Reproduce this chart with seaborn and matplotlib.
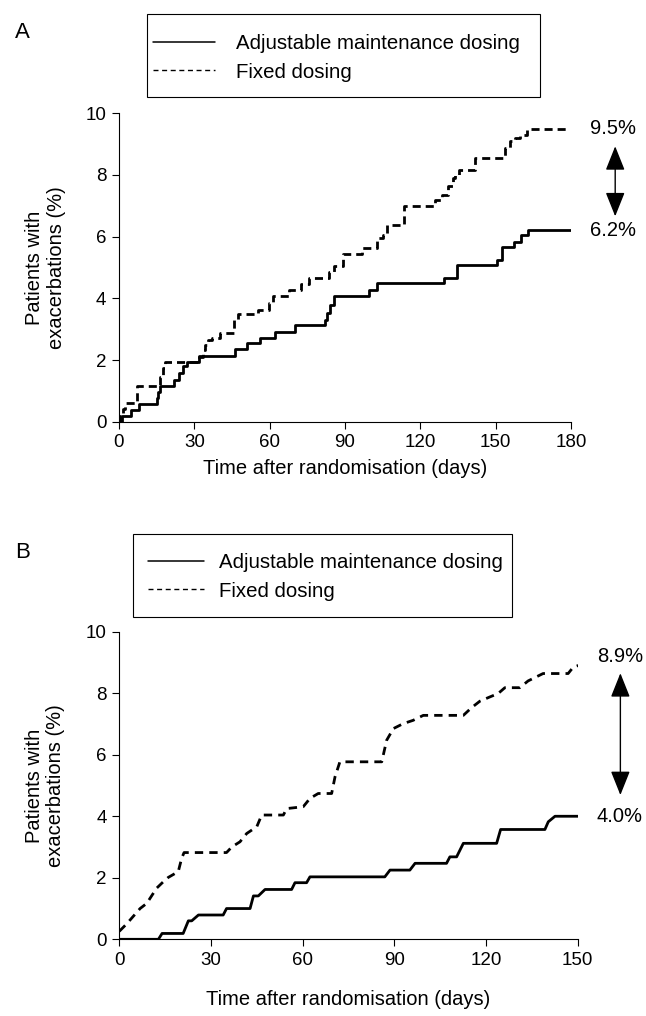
import matplotlib
matplotlib.use("Agg")
import matplotlib.pyplot as plt
import seaborn as sns
import pandas as pd
from matplotlib.lines import Line2D
from matplotlib.patches import Rectangle

# ---------------- data ----------------
# Panel A (Kaplan-Meier style steps)
a_adj_days = [0, 1, 4.6, 8, 15, 15.5, 16.5, 21.9, 23.9, 25.4, 27, 32, 46, 51, 56, 62, 70,
              82, 83, 84, 85.5, 99.7, 102.6, 129.6, 134.5, 150.5, 152.5, 157.4, 160, 162.7, 180]
a_adj_pct = [0, 0.18, 0.38, 0.57, 0.76, 0.95, 1.16, 1.35, 1.57, 1.79, 1.95, 2.13, 2.35, 2.54,
             2.73, 2.92, 3.14, 3.30, 3.52, 3.79, 4.08, 4.28, 4.49, 4.66, 5.07, 5.25, 5.65,
             5.84, 6.04, 6.2, 6.2]

a_fix_days = [0, 0.5, 1.5, 2.5, 7, 16.3, 17.4, 18.3, 32.0, 33.3, 34.3, 35.6, 36.9, 40.2,
              45.8, 47.5, 55.5, 59.9, 61.5, 67.5, 72.5, 75.5, 83.5, 85.5, 89.4, 96.7,
              102.7, 105.3, 106.6, 113.3, 125.9, 128.6, 131.2, 133.2, 133.9, 135.2,
              141.8, 153.8, 155.8, 157.8, 159.8, 162.4, 178.4]
a_fix_pct = [0, 0.2, 0.4, 0.6, 1.16, 1.46, 1.73, 1.95, 2.11, 2.33, 2.49, 2.65, 2.73, 2.89,
             3.30, 3.50, 3.63, 3.84, 4.08, 4.28, 4.45, 4.66, 4.85, 5.05, 5.44, 5.63,
             5.95, 6.06, 6.39, 6.98, 7.20, 7.36, 7.63, 7.90, 8.0, 8.15,
             8.55, 8.88, 9.09, 9.20, 9.31, 9.5, 9.5]

# Panel B (curves with sloped risers)
b_adj_days = [0, 12.8, 14.0, 20.9, 22.6, 23.7, 25.9, 34.0, 35.1, 42.8, 43.9, 45.5, 47.7,
              56.4, 57.5, 61.3, 62.4, 86.9, 88.6, 95.1, 96.8, 107.1, 108.2, 110.4, 112.6,
              123.5, 124.8, 139.3, 140.4, 142.6, 150.8]
b_adj_pct = [0, 0, 0.19, 0.19, 0.6, 0.6, 0.79, 0.79, 1.0, 1.0, 1.41, 1.41, 1.62,
             1.62, 1.84, 1.84, 2.03, 2.03, 2.25, 2.25, 2.47, 2.47, 2.68, 2.68, 3.12,
             3.12, 3.57, 3.57, 3.82, 4.0, 4.0]

b_fix_days = [0, 2.4, 6.8, 9.0, 12.2, 14.4, 16.0, 19.3, 20.4, 21.2, 35.1, 36.8, 39.5, 41.7,
              45.0, 46.6, 53.7, 54.8, 60.2, 62.4, 65.1, 69.5, 70.6, 72.2, 85.9, 87.5,
              89.7, 92.9, 96.2, 99.5, 112.6, 115.3, 118.0, 121.3, 124.0, 126.2, 131.1,
              133.8, 138.7, 146.9, 148.6, 150.2]
b_fix_pct = [0.26, 0.5, 1.0, 1.17, 1.66, 1.87, 2.01, 2.2, 2.63, 2.82, 2.82, 3.0, 3.17, 3.44,
             3.66, 4.04, 4.04, 4.25, 4.31, 4.58, 4.74, 4.74, 5.28, 5.77, 5.77, 6.47,
             6.85, 7.01, 7.12, 7.28, 7.28, 7.53, 7.74, 7.88, 7.99, 8.18, 8.18,
             8.4, 8.64, 8.64, 8.85, 8.9]

series_labels = ["Adjustable maintenance dosing", "Fixed dosing"]
a_ticks_x = [0, 30, 60, 90, 120, 150, 180]
b_ticks_x = [0, 30, 60, 90, 120, 150]
y_ticks = [0, 2, 4, 6, 8, 10]
x_title = "Time after randomisation (days)"
y_title = "Patients with\nexacerbations (%)"

# ---------------- style ----------------
sns.set_style("ticks")
plt.rcParams["font.family"] = ["Liberation Sans", "DejaVu Sans"]
plt.rcParams["axes.linewidth"] = 0.8
plt.rcParams["text.color"] = "black"
plt.rcParams["axes.labelcolor"] = "black"
plt.rcParams["xtick.color"] = "black"
plt.rcParams["ytick.color"] = "black"
plt.rcParams["axes.edgecolor"] = "black"

W, H = 646, 1016
fig = plt.figure(figsize=(W / 100, H / 100), dpi=100)

def fx(px):
    return px / W

def fy(py):
    return 1 - py / H

axA = fig.add_axes([fx(119), fy(421.7), 452 / W, 308.4 / H])
axB = fig.add_axes([fx(119.3), fy(939.3), 458.3 / W, 307.6 / H])

dfA1 = pd.DataFrame({"day": a_adj_days, "pct": a_adj_pct})
dfA2 = pd.DataFrame({"day": a_fix_days, "pct": a_fix_pct})
dfB1 = pd.DataFrame({"day": b_adj_days, "pct": b_adj_pct})
dfB2 = pd.DataFrame({"day": b_fix_days, "pct": b_fix_pct})

sns.lineplot(data=dfA1, x="day", y="pct", ax=axA, color="black", lw=2.0,
             drawstyle="steps-post", estimator=None, sort=False)
sns.lineplot(data=dfA2, x="day", y="pct", ax=axA, color="black", lw=2.0,
             drawstyle="steps-post", estimator=None, sort=False,
             linestyle=(0, (2.9, 1.8)))
sns.lineplot(data=dfB1, x="day", y="pct", ax=axB, color="black", lw=2.0,
             estimator=None, sort=False)
sns.lineplot(data=dfB2, x="day", y="pct", ax=axB, color="black", lw=2.0,
             estimator=None, sort=False, linestyle=(0, (3.0, 2.2)))

for ax, xmax, xt in [(axA, 180, a_ticks_x), (axB, 150, b_ticks_x)]:
    ax.set_xlim(0, xmax)
    ax.set_ylim(0, 10)
    ax.set_xticks(xt)
    ax.set_yticks(y_ticks)
    ax.tick_params(direction="out", length=5, width=0.8, labelsize=13.5, pad=4,
                   colors="black")
    sns.despine(ax=ax)
    ax.spines["left"].set_color("black")
    ax.spines["bottom"].set_color("black")
    ax.set_xlabel(x_title, fontsize=14.5, color="black")
    ax.set_ylabel(y_title, fontsize=14.5, linespacing=1.15, color="black")
    ax.yaxis.set_label_coords(-0.118, 0.5)

axA.xaxis.set_label_coords(0.5, -0.12)
axB.xaxis.set_label_coords(0.5, -0.165)

# end-value annotations with double-headed arrows
arrow_kw = dict(arrowstyle="<|-|>,head_length=1.5,head_width=0.6", color="black",
                lw=1.0, mutation_scale=10, shrinkA=0, shrinkB=0)
axA.text(187.6, a_fix_pct[-1], "9.5%", ha="left", va="center", fontsize=14.5,
         color="black", clip_on=False)
axA.text(187.6, a_adj_pct[-1], "6.2%", ha="left", va="center", fontsize=14.5,
         color="black", clip_on=False)
axA.annotate("", xy=(197.6, 8.93), xytext=(197.6, 6.66), arrowprops=arrow_kw,
             annotation_clip=False)

axB.text(156.3, 9.18, "8.9%", ha="left", va="center", fontsize=14.5,
         color="black", clip_on=False)
axB.text(156.3, b_adj_pct[-1], "4.0%", ha="left", va="center", fontsize=14.5,
         color="black", clip_on=False)
axB.annotate("", xy=(164, 8.65), xytext=(164, 4.69), arrowprops=arrow_kw,
             annotation_clip=False)

# legends with boxed frames
def add_legend(box, handle_x, center_y, hlen, hpad):
    x0, y0, x1, y1 = box
    fig.patches.append(Rectangle((fx(x0), fy(y1)), (x1 - x0) / W, (y1 - y0) / H,
                                 transform=fig.transFigure, fill=False,
                                 edgecolor="black", lw=0.8))
    handles = [Line2D([], [], color="black", lw=1.1, label=series_labels[0]),
               Line2D([], [], color="black", lw=1.0, linestyle=(0, (3.6, 2.6)),
                      label=series_labels[1])]
    fig.legend(handles=handles, loc="center left",
               bbox_to_anchor=(fx(handle_x), fy(center_y)), frameon=False,
               fontsize=14.7, borderpad=0, borderaxespad=0, handlelength=hlen,
               handletextpad=hpad, labelspacing=0.45, labelcolor="black")

add_legend((147, 14, 540, 97), 152.7, 58, 3.05, 1.05)
add_legend((133.3, 534, 511.7, 617.3), 147.7, 577, 2.75, 0.75)

fig.text(fx(15), fy(33), "A", ha="left", va="center", fontsize=16, color="black")
fig.text(fx(15), fy(552), "B", ha="left", va="center", fontsize=16, color="black")

fig.savefig("out.png", dpi=100)
